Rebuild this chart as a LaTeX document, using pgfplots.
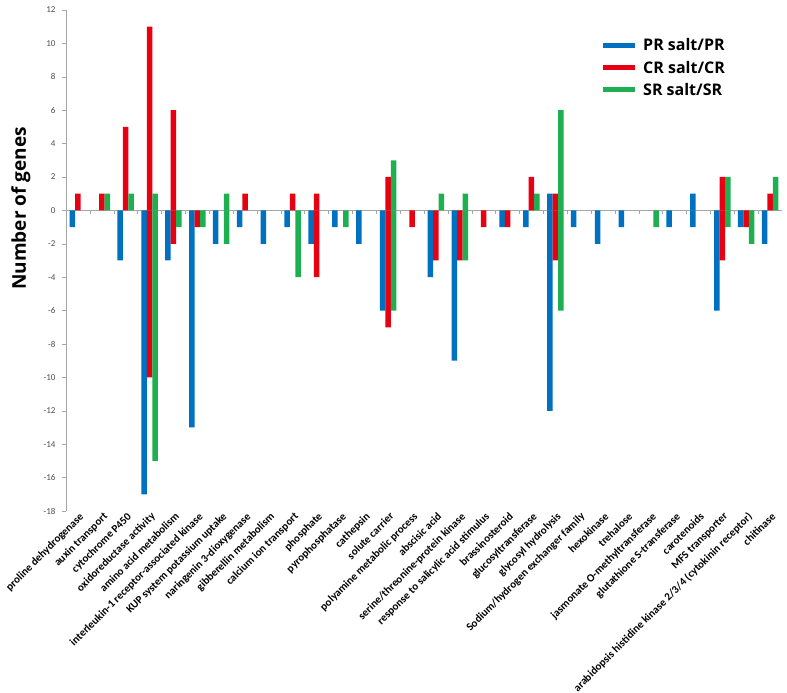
\documentclass[border=0pt]{standalone}
\usepackage{pgfplots}
\pgfplotsset{compat=1.18}
\usepackage{fontspec}
\setmainfont{Carlito}
\newfontfamily\osans{Open Sans}
\definecolor{cblue}{HTML}{0070C0}
\definecolor{cred}{HTML}{E60012}
\definecolor{cgreen}{HTML}{1DAF50}
\definecolor{axgray}{HTML}{A6A6A6}
\begin{document}
\begin{tikzpicture}[x=1pt,y=1pt]
\path[use as bounding box] (0,0) rectangle (787,693);
\begin{axis}[
 at={(66pt,182pt)}, anchor=south west,
 scale only axis, width=716pt, height=501pt,
 xmin=0.5, xmax=30.5, ymin=-18, ymax=12,
 axis x line=bottom, axis y line=left,
 x axis line style={draw=none,-},
 y axis line style={axgray,-},
 xtick={1,...,30},
 xticklabels={proline dehydrogenase,auxin transport,cytochrome P450,oxidoreductase activity,amino acid metabolism,interleukin-1 receptor-associated kinase,KUP system potassium uptake,naringenin 3-dioxygenase,gibberellin metabolism,calcium ion transport,phosphate,pyrophosphatase,cathepsin,solute carrier,polyamine metabolic process,abscisic acid,serine/threonine-protein kinase,response to salicylic acid stimulus,brassinosteroid,glucosyltransferase,glycosyl hydrolysis,Sodium/hydrogen exchanger family,hexokinase,trehalose,jasmonate O-methyltransferase,glutathione S-transferase,carotenoids,MFS transporter,arabidopsis histidine kinase 2/3/4 (cytokinin receptor),chitinase},
 x tick style={draw=none},
 xticklabel style={rotate=45, anchor=north east, font=\fontsize{11}{13}\selectfont\bfseries, inner sep=1pt, xshift=4pt, yshift=3pt},
 ytick={-18,-16,...,12},
 y tick style={axgray},
 tick align=outside, major tick length=4pt,
 yticklabel style={font=\fontsize{9}{10}\selectfont, text=black!70, xshift=-3pt},
 /pgf/number format/assume math mode=true,
 ylabel={Number of genes},
 ylabel style={at={(axis description cs:-0.063,0.604)}, anchor=center, font=\osans\fontsize{19}{22}\selectfont\bfseries},
 ybar, bar width=5.5pt,
 legend style={at={(0.75,0.943)}, anchor=north west, draw=none, fill=none, inner sep=0pt,
   nodes={inner sep=0pt},
   font=\osans\fontsize{16}{19}\selectfont\bfseries, row sep=8.5pt, cells={anchor=west}},
 legend image code/.code={\fill[#1] (0pt,-2.5pt) rectangle (32pt,2.5pt); \path (40pt,0pt);},
]
\draw[axgray] (axis cs:0.5,0) -- (axis cs:30.5,0);
\pgfplotsinvokeforeach{1.5,2.5,...,30.5}{\draw[axgray] (axis cs:#1,0) -- (axis cs:#1,-0.24);}
% PR salt/PR
\addplot[fill=cblue, draw=none, bar shift=-5.5pt] coordinates {(21,1) (27,1)};
\addlegendentry{PR salt/PR}
% CR salt/CR
\addplot[fill=cred, draw=none, bar shift=0pt] coordinates {(1,1) (2,1) (3,5) (4,11) (5,6) (8,1) (10,1) (11,1) (14,2) (20,2) (21,1) (28,2) (30,1)};
\addlegendentry{CR salt/CR}
% SR salt/SR
\addplot[fill=cgreen, draw=none, bar shift=5.5pt] coordinates {(2,1) (3,1) (4,1) (7,1) (14,3) (16,1) (17,1) (20,1) (21,6) (28,2) (30,2)};
\addlegendentry{SR salt/SR}
% down-regulated
\addplot[fill=cblue, draw=none, bar shift=-5.5pt, forget plot] coordinates {(1,-1) (3,-3) (4,-17) (5,-3) (6,-13) (7,-2) (8,-1) (9,-2) (10,-1) (11,-2) (12,-1) (13,-2) (14,-6) (16,-4) (17,-9) (19,-1) (20,-1) (21,-12) (22,-1) (23,-2) (24,-1) (26,-1) (27,-1) (28,-6) (29,-1) (30,-2)};
\addplot[fill=cred, draw=none, bar shift=0pt, forget plot] coordinates {(4,-10) (5,-2) (6,-1) (11,-4) (14,-7) (15,-1) (16,-3) (17,-3) (18,-1) (19,-1) (21,-3) (28,-3) (29,-1)};
\addplot[fill=cgreen, draw=none, bar shift=5.5pt, forget plot] coordinates {(4,-15) (5,-1) (6,-1) (7,-2) (10,-4) (12,-1) (14,-6) (17,-3) (21,-6) (25,-1) (28,-1) (29,-2)};
\end{axis}
\end{tikzpicture}
\end{document}
